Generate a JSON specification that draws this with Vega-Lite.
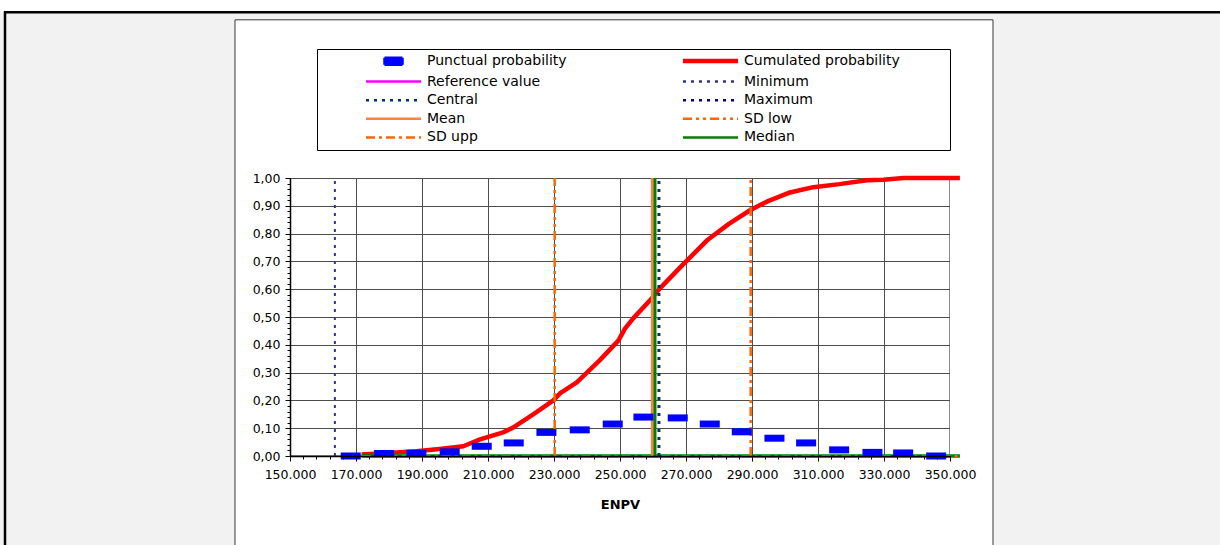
{
  "$schema": "https://vega.github.io/schema/vega-lite/v6.json",
  "width": 660,
  "height": 278,
  "autosize": {"type": "none"},
  "padding": {"left": 290, "top": 178, "right": 270, "bottom": 89},
  "background": "#f2f2f2",
  "config": {
    "locale": {"number": {"decimal": ",", "thousands": ".", "grouping": [3], "currency": ["", " €"]}},
    "view": {"fill": "white", "stroke": "#8c8c8c", "strokeWidth": 2}
  },
  "data": {"values": [{}]},
  "datasets": {
    "punctual": [
      {"series": "Punctual probability", "enpv": 168400, "p": 0.000},
      {"series": "Punctual probability", "enpv": 178500, "p": 0.009},
      {"series": "Punctual probability", "enpv": 188300, "p": 0.010},
      {"series": "Punctual probability", "enpv": 198400, "p": 0.015},
      {"series": "Punctual probability", "enpv": 208100, "p": 0.035},
      {"series": "Punctual probability", "enpv": 217800, "p": 0.047},
      {"series": "Punctual probability", "enpv": 227700, "p": 0.085},
      {"series": "Punctual probability", "enpv": 237800, "p": 0.094},
      {"series": "Punctual probability", "enpv": 247800, "p": 0.115},
      {"series": "Punctual probability", "enpv": 257100, "p": 0.140},
      {"series": "Punctual probability", "enpv": 267500, "p": 0.137},
      {"series": "Punctual probability", "enpv": 277200, "p": 0.115},
      {"series": "Punctual probability", "enpv": 286900, "p": 0.087},
      {"series": "Punctual probability", "enpv": 296800, "p": 0.064},
      {"series": "Punctual probability", "enpv": 306400, "p": 0.047},
      {"series": "Punctual probability", "enpv": 316400, "p": 0.022},
      {"series": "Punctual probability", "enpv": 326500, "p": 0.013},
      {"series": "Punctual probability", "enpv": 335800, "p": 0.011},
      {"series": "Punctual probability", "enpv": 345800, "p": 0.000}
    ],
    "cumulated": [
      {"series": "Cumulated probability", "enpv": 171700, "p": 0.005},
      {"series": "Cumulated probability", "enpv": 178500, "p": 0.010},
      {"series": "Cumulated probability", "enpv": 188300, "p": 0.017},
      {"series": "Cumulated probability", "enpv": 196000, "p": 0.026},
      {"series": "Cumulated probability", "enpv": 202500, "p": 0.035},
      {"series": "Cumulated probability", "enpv": 207600, "p": 0.060},
      {"series": "Cumulated probability", "enpv": 214600, "p": 0.085},
      {"series": "Cumulated probability", "enpv": 217700, "p": 0.103},
      {"series": "Cumulated probability", "enpv": 223700, "p": 0.150},
      {"series": "Cumulated probability", "enpv": 229800, "p": 0.200},
      {"series": "Cumulated probability", "enpv": 231800, "p": 0.225},
      {"series": "Cumulated probability", "enpv": 236900, "p": 0.265},
      {"series": "Cumulated probability", "enpv": 243900, "p": 0.345},
      {"series": "Cumulated probability", "enpv": 249500, "p": 0.415},
      {"series": "Cumulated probability", "enpv": 251500, "p": 0.458},
      {"series": "Cumulated probability", "enpv": 254000, "p": 0.495},
      {"series": "Cumulated probability", "enpv": 259100, "p": 0.560},
      {"series": "Cumulated probability", "enpv": 262100, "p": 0.603},
      {"series": "Cumulated probability", "enpv": 269200, "p": 0.690},
      {"series": "Cumulated probability", "enpv": 276300, "p": 0.775},
      {"series": "Cumulated probability", "enpv": 283000, "p": 0.835},
      {"series": "Cumulated probability", "enpv": 289400, "p": 0.884},
      {"series": "Cumulated probability", "enpv": 294500, "p": 0.915},
      {"series": "Cumulated probability", "enpv": 301500, "p": 0.948},
      {"series": "Cumulated probability", "enpv": 308600, "p": 0.967},
      {"series": "Cumulated probability", "enpv": 316500, "p": 0.978},
      {"series": "Cumulated probability", "enpv": 324800, "p": 0.992},
      {"series": "Cumulated probability", "enpv": 329800, "p": 0.994},
      {"series": "Cumulated probability", "enpv": 335900, "p": 1.000},
      {"series": "Cumulated probability", "enpv": 353000, "p": 1.000}
    ],
    "refs": [
      {"series": "Minimum", "value": 163600},
      {"series": "SD low", "value": 230200},
      {"series": "Mean", "value": 259800},
      {"series": "Median", "value": 260600},
      {"series": "Central", "value": 261800},
      {"series": "SD upp", "value": 289600}
    ],
    "baselines": [
      {"series": "Median", "start": 171700, "end": 353000},
      {"series": "SD upp", "start": 171700, "end": 353000}
    ]
  },
  "resolve": {"axis": {"x": "independent", "y": "independent"}},
  "layer": [
    {
      "mark": {"type": "rect", "fill": "white"},
      "encoding": {
        "x": {"datum": 0, "type": "quantitative", "scale": {"domain": [150000, 350000], "nice": false, "zero": false}, "axis": null},
        "x2": {"datum": 600000},
        "y": {"datum": 1.5964, "type": "quantitative", "scale": {"domain": [0, 1], "nice": false, "zero": false}, "axis": null},
        "y2": {"datum": 3}
      }
    },
    {
      "mark": {"type": "rect", "fill": "transparent", "stroke": "#000000", "strokeWidth": 2.5},
      "encoding": {
        "x": {"datum": 63636, "type": "quantitative", "scale": {"domain": [150000, 350000], "nice": false, "zero": false}, "axis": null},
        "x2": {"datum": 600000},
        "y": {"datum": -1, "type": "quantitative", "scale": {"domain": [0, 1], "nice": false, "zero": false}, "axis": null},
        "y2": {"datum": 1.5964}
      }
    },
    {
      "mark": {"type": "rect", "fill": "white"},
      "encoding": {
        "x": {"datum": 133333, "type": "quantitative", "scale": {"domain": [150000, 350000], "nice": false, "zero": false}, "axis": null},
        "x2": {"datum": 363030},
        "y": {"datum": 1, "type": "quantitative", "scale": {"domain": [0, 1], "nice": false, "zero": false}, "axis": null},
        "y2": {"datum": 1.569}
      }
    },
    {
      "mark": {"type": "rect", "fill": "white"},
      "encoding": {
        "x": {"datum": 133333, "type": "quantitative", "scale": {"domain": [150000, 350000], "nice": false, "zero": false}, "axis": null},
        "x2": {"datum": 150000},
        "y": {"datum": -1, "type": "quantitative", "scale": {"domain": [0, 1], "nice": false, "zero": false}, "axis": null},
        "y2": {"datum": 1}
      }
    },
    {
      "mark": {"type": "rect", "fill": "white"},
      "encoding": {
        "x": {"datum": 350000, "type": "quantitative", "scale": {"domain": [150000, 350000], "nice": false, "zero": false}, "axis": null},
        "x2": {"datum": 363030},
        "y": {"datum": -1, "type": "quantitative", "scale": {"domain": [0, 1], "nice": false, "zero": false}, "axis": null},
        "y2": {"datum": 1}
      }
    },
    {
      "mark": {"type": "rect", "fill": "white"},
      "encoding": {
        "x": {"datum": 150000, "type": "quantitative", "scale": {"domain": [150000, 350000], "nice": false, "zero": false}, "axis": null},
        "x2": {"datum": 350000},
        "y": {"datum": -1, "type": "quantitative", "scale": {"domain": [0, 1], "nice": false, "zero": false}, "axis": null},
        "y2": {"datum": 0}
      }
    },
    {
      "mark": {"type": "rect", "fill": "transparent", "stroke": "#3a3a3a", "strokeWidth": 1},
      "encoding": {
        "x": {"datum": 133333, "type": "quantitative", "scale": {"domain": [150000, 350000], "nice": false, "zero": false}, "axis": null},
        "x2": {"datum": 363030},
        "y": {"datum": -1, "type": "quantitative", "scale": {"domain": [0, 1], "nice": false, "zero": false}, "axis": null},
        "y2": {"datum": 1.569}
      }
    },
    {
      "data": {"name": "cumulated"},
      "mark": {"type": "line", "strokeWidth": 4.5, "strokeJoin": "round"},
      "encoding": {
        "x": {"field": "enpv", "type": "quantitative", "scale": {"domain": [150000, 350000], "nice": false, "zero": false},
          "axis": {"orient": "bottom", "zindex": 2, "values": [150000, 170000, 190000, 210000, 230000, 250000, 270000, 290000, 310000, 330000, 350000], "format": ",d",
            "grid": false, "tickSize": 5, "tickColor": "#000000", "domainColor": "#000000", "domainWidth": 1.5,
            "labelPadding": 7, "labelFont": "DejaVu Sans", "labelFontSize": 12.5, "labelColor": "#000000", "labelFlush": false, "labelOverlap": false,
            "title": "ENPV", "titleFont": "DejaVu Sans", "titleFontSize": 13, "titleFontWeight": "bold", "titleColor": "#000000", "titlePadding": 18}},
        "y": {"field": "p", "type": "quantitative", "scale": {"domain": [0, 1], "nice": false, "zero": false},
          "axis": {"orient": "left", "zindex": 2, "values": [0, 0.1, 0.2, 0.3, 0.4, 0.5, 0.6, 0.7, 0.8, 0.9, 1], "format": ".2f",
            "grid": false, "tickSize": 5, "tickColor": "#000000", "domainColor": "#000000", "domainWidth": 1.5,
            "labelPadding": 5, "labelFont": "DejaVu Sans", "labelFontSize": 12.5, "labelColor": "#000000", "labelFlush": false, "labelOverlap": false, "title": null}},
        "color": {"field": "series", "type": "nominal",
          "scale": {"domain": ["Punctual probability", "Reference value", "Central", "Mean", "SD upp", "Cumulated probability", "Minimum", "Maximum", "SD low", "Median"],
                    "range": ["#0000ff", "#ff00ff", "#003366", "#ff8040", "#ff6600", "#ff0000", "#333399", "#000080", "#ff6600", "#008000"]},
          "legend": {"title": "\u00a0", "titleOrient": "right", "titlePadding": 45, "orient": "none", "legendX": 27, "legendY": -129,
            "columns": 2, "columnPadding": 72, "rowPadding": 4.6, "padding": 5, "fillColor": "#ffffff", "strokeColor": "#000000",
            "labelFont": "DejaVu Sans", "labelFontSize": 14, "labelColor": "#000000", "labelLimit": 300,
            "symbolSize": 64, "symbolStrokeWidth": 2, "symbolOffset": 64.5, "labelOffset": 26.5,
            "encode": {"symbols": {"update": {
              "shape": {"signal": "datum.value === 'Punctual probability' ? 'M-2.25,-0.875H2.25V0.875H-2.25Z' : 'M-6.875,0H6.875'"},
              "size": {"value": 64},
              "fill": {"signal": "datum.value === 'Punctual probability' ? '#0000ff' : 'transparent'"},
              "stroke": {"signal": "datum.value === 'Punctual probability' ? 'transparent' : scale('color', datum.value)"},
              "strokeWidth": {"signal": "datum.value === 'Cumulated probability' ? 4.5 : 2.5"},
              "strokeDash": {"signal": "indexof(['Minimum','Central','Maximum'], datum.value) >= 0 ? [3,5] : datum.value === 'SD low' ? [9,4,3,4,3,4] : datum.value === 'SD upp' ? [9,4,3,4] : [1,0]"},
              "opacity": {"value": 1}
            }}}}}
      }
    },
    {
      "data": {"name": "baselines"},
      "transform": [{"filter": "datum.series === 'Median'"}],
      "mark": {"type": "rule", "strokeWidth": 3.5},
      "encoding": {
        "x": {"field": "start", "type": "quantitative", "scale": {"domain": [150000, 350000], "nice": false, "zero": false}, "axis": null},
        "x2": {"field": "end"},
        "y": {"datum": 0, "type": "quantitative", "scale": {"domain": [0, 1], "nice": false, "zero": false}, "axis": null},
        "color": {"field": "series", "type": "nominal",
          "scale": {"domain": ["Punctual probability", "Reference value", "Central", "Mean", "SD upp", "Cumulated probability", "Minimum", "Maximum", "SD low", "Median"],
                    "range": ["#0000ff", "#ff00ff", "#003366", "#ff8040", "#ff6600", "#ff0000", "#333399", "#000080", "#ff6600", "#008000"]}}
      }
    },
    {
      "data": {"name": "baselines"},
      "transform": [{"filter": "datum.series === 'SD upp'"}],
      "mark": {"type": "rule", "strokeWidth": 2, "strokeDash": [9, 4, 3, 4]},
      "encoding": {
        "x": {"field": "start", "type": "quantitative", "scale": {"domain": [150000, 350000], "nice": false, "zero": false}, "axis": null},
        "x2": {"field": "end"},
        "y": {"datum": 0, "type": "quantitative", "scale": {"domain": [0, 1], "nice": false, "zero": false}, "axis": null},
        "color": {"field": "series", "type": "nominal",
          "scale": {"domain": ["Punctual probability", "Reference value", "Central", "Mean", "SD upp", "Cumulated probability", "Minimum", "Maximum", "SD low", "Median"],
                    "range": ["#0000ff", "#ff00ff", "#003366", "#ff8040", "#ff6600", "#ff0000", "#333399", "#000080", "#ff6600", "#008000"]}}
      }
    },
    {
      "data": {"name": "refs"},
      "transform": [{"filter": "datum.series === 'Minimum'"}],
      "mark": {"type": "rule", "strokeWidth": 2, "strokeDash": [3, 5]},
      "encoding": {
        "x": {"field": "value", "type": "quantitative", "scale": {"domain": [150000, 350000], "nice": false, "zero": false},
          "axis": {"orient": "bottom", "zindex": 0, "values": [150000, 170000, 190000, 210000, 230000, 250000, 270000, 290000, 310000, 330000, 350000],
            "grid": true, "gridColor": "#4d4d4d", "gridWidth": 1, "gridOpacity": 1, "labels": false, "ticks": false, "domain": false, "title": null}},
        "y": {"datum": 0, "type": "quantitative", "scale": {"domain": [0, 1], "nice": false, "zero": false},
          "axis": {"orient": "left", "zindex": 0, "values": [0, 0.1, 0.2, 0.3, 0.4, 0.5, 0.6, 0.7, 0.8, 0.9, 1],
            "grid": true, "gridColor": "#4d4d4d", "gridWidth": 1, "gridOpacity": 1, "labels": false, "ticks": false, "domain": false, "title": null}},
        "y2": {"datum": 1},
        "color": {"field": "series", "type": "nominal",
          "scale": {"domain": ["Punctual probability", "Reference value", "Central", "Mean", "SD upp", "Cumulated probability", "Minimum", "Maximum", "SD low", "Median"],
                    "range": ["#0000ff", "#ff00ff", "#003366", "#ff8040", "#ff6600", "#ff0000", "#333399", "#000080", "#ff6600", "#008000"]}}
      }
    },
    {
      "data": {"name": "refs"},
      "transform": [{"filter": "datum.series === 'SD low'"}],
      "mark": {"type": "rule", "strokeWidth": 2.5, "strokeDash": [9, 4, 3, 4, 3, 4]},
      "encoding": {
        "x": {"field": "value", "type": "quantitative", "scale": {"domain": [150000, 350000], "nice": false, "zero": false}, "axis": null},
        "y": {"datum": 0, "type": "quantitative", "scale": {"domain": [0, 1], "nice": false, "zero": false}, "axis": null},
        "y2": {"datum": 1},
        "color": {"field": "series", "type": "nominal",
          "scale": {"domain": ["Punctual probability", "Reference value", "Central", "Mean", "SD upp", "Cumulated probability", "Minimum", "Maximum", "SD low", "Median"],
                    "range": ["#0000ff", "#ff00ff", "#003366", "#ff8040", "#ff6600", "#ff0000", "#333399", "#000080", "#ff6600", "#008000"]}}
      }
    },
    {
      "data": {"name": "refs"},
      "transform": [{"filter": "datum.series === 'SD upp'"}],
      "mark": {"type": "rule", "strokeWidth": 2.5, "strokeDash": [9, 4, 3, 4]},
      "encoding": {
        "x": {"field": "value", "type": "quantitative", "scale": {"domain": [150000, 350000], "nice": false, "zero": false}, "axis": null},
        "y": {"datum": 0, "type": "quantitative", "scale": {"domain": [0, 1], "nice": false, "zero": false}, "axis": null},
        "y2": {"datum": 1},
        "color": {"field": "series", "type": "nominal",
          "scale": {"domain": ["Punctual probability", "Reference value", "Central", "Mean", "SD upp", "Cumulated probability", "Minimum", "Maximum", "SD low", "Median"],
                    "range": ["#0000ff", "#ff00ff", "#003366", "#ff8040", "#ff6600", "#ff0000", "#333399", "#000080", "#ff6600", "#008000"]}}
      }
    },
    {
      "data": {"name": "refs"},
      "transform": [{"filter": "datum.series === 'Mean' || datum.series === 'Median'"}],
      "mark": {"type": "rule", "strokeWidth": 3},
      "encoding": {
        "x": {"field": "value", "type": "quantitative", "scale": {"domain": [150000, 350000], "nice": false, "zero": false}, "axis": null},
        "y": {"datum": 0, "type": "quantitative", "scale": {"domain": [0, 1], "nice": false, "zero": false}, "axis": null},
        "y2": {"datum": 1},
        "color": {"field": "series", "type": "nominal",
          "scale": {"domain": ["Punctual probability", "Reference value", "Central", "Mean", "SD upp", "Cumulated probability", "Minimum", "Maximum", "SD low", "Median"],
                    "range": ["#0000ff", "#ff00ff", "#003366", "#ff8040", "#ff6600", "#ff0000", "#333399", "#000080", "#ff6600", "#008000"]}}
      }
    },
    {
      "data": {"name": "refs"},
      "transform": [{"filter": "datum.series === 'Central'"}],
      "mark": {"type": "rule", "strokeWidth": 3, "strokeDash": [3, 5]},
      "encoding": {
        "x": {"field": "value", "type": "quantitative", "scale": {"domain": [150000, 350000], "nice": false, "zero": false}, "axis": null},
        "y": {"datum": 0, "type": "quantitative", "scale": {"domain": [0, 1], "nice": false, "zero": false}, "axis": null},
        "y2": {"datum": 1},
        "color": {"field": "series", "type": "nominal",
          "scale": {"domain": ["Punctual probability", "Reference value", "Central", "Mean", "SD upp", "Cumulated probability", "Minimum", "Maximum", "SD low", "Median"],
                    "range": ["#0000ff", "#ff00ff", "#003366", "#ff8040", "#ff6600", "#ff0000", "#333399", "#000080", "#ff6600", "#008000"]}}
      }
    },
    {
      "data": {"name": "punctual"},
      "mark": {"type": "tick", "orient": "horizontal", "thickness": 7, "size": 20, "opacity": 1},
      "encoding": {
        "x": {"field": "enpv", "type": "quantitative", "scale": {"domain": [150000, 350000], "nice": false, "zero": false},
          "axis": {"orient": "bottom", "zindex": 2, "values": [150000, 154000, 158000, 162000, 166000, 170000, 174000, 178000, 182000, 186000, 190000, 194000, 198000, 202000, 206000, 210000, 214000, 218000, 222000, 226000, 230000, 234000, 238000, 242000, 246000, 250000, 254000, 258000, 262000, 266000, 270000, 274000, 278000, 282000, 286000, 290000, 294000, 298000, 302000, 306000, 310000, 314000, 318000, 322000, 326000, 330000, 334000, 338000, 342000, 346000, 350000],
            "labels": false, "grid": false, "domain": false, "tickSize": 3, "tickColor": "#000000", "title": null}},
        "y": {"field": "p", "type": "quantitative", "scale": {"domain": [0, 1], "nice": false, "zero": false},
          "axis": {"orient": "left", "zindex": 2, "values": [0, 0.02, 0.04, 0.06, 0.08, 0.1, 0.12, 0.14, 0.16, 0.18, 0.2, 0.22, 0.24, 0.26, 0.28, 0.3, 0.32, 0.34, 0.36, 0.38, 0.4, 0.42, 0.44, 0.46, 0.48, 0.5, 0.52, 0.54, 0.56, 0.58, 0.6, 0.62, 0.64, 0.66, 0.68, 0.7, 0.72, 0.74, 0.76, 0.78, 0.8, 0.82, 0.84, 0.86, 0.88, 0.9, 0.92, 0.94, 0.96, 0.98, 1],
            "labels": false, "grid": false, "domain": false, "tickSize": 3, "tickColor": "#000000", "title": null}},
        "color": {"field": "series", "type": "nominal",
          "scale": {"domain": ["Punctual probability", "Reference value", "Central", "Mean", "SD upp", "Cumulated probability", "Minimum", "Maximum", "SD low", "Median"],
                    "range": ["#0000ff", "#ff00ff", "#003366", "#ff8040", "#ff6600", "#ff0000", "#333399", "#000080", "#ff6600", "#008000"]}}
      }
    }
  ]
}
